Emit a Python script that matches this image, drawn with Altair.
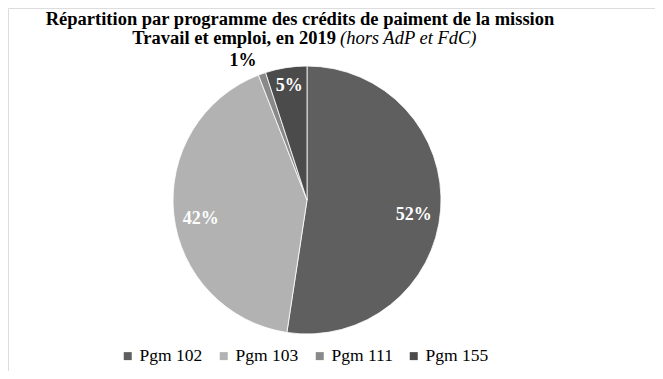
import altair as alt
import pandas as pd

programmes = ["Pgm 102", "Pgm 103", "Pgm 111", "Pgm 155"]
values = [52.4, 41.7, 0.9, 5.0]
labels = ["52%", "42%", "1%", "5%"]
colors = ["#5f5f5f", "#b2b2b2", "#898989", "#4b4b4b"]
order = [1, 2, 3, 4]

title_line1 = "Répartition par programme des crédits de paiment de la mission"
title_line2_bold = "Travail et emploi, en 2019"
title_line2_italic = "(hors AdP et FdC)"

df = pd.DataFrame({"prog": programmes, "val": values, "lab": labels, "ord": order})

FONT = "Liberation Serif"
CX, CY, R = 299, 192, 134

base = alt.Chart(df).encode(
    theta=alt.Theta("val:Q", stack=True),
    order=alt.Order("ord:Q"),
    x=alt.value(CX), y=alt.value(CY),
)

pie = base.mark_arc(outerRadius=R, stroke="white", strokeWidth=0.8).encode(
    color=alt.Color(
        "prog:N",
        scale=alt.Scale(domain=programmes, range=colors),
        legend=alt.Legend(
            title=None, orient="none", legendX=111, legendY=339,
            direction="horizontal", symbolType="square", symbolSize=64,
            symbolStrokeWidth=0, labelFont=FONT, labelFontSize=17.5,
            labelColor="#000000", columnPadding=12, labelOffset=3,
        ),
    ),
)

def lab_only(names):
    cond = " || ".join(f"datum.prog == '{n}'" for n in names)
    return alt.condition(cond, "lab:N", alt.value(""))

big = base.mark_text(radius=107, dy=7, font=FONT, fontSize=18, fontWeight="bold",
                     color="white").encode(text=lab_only(["Pgm 102", "Pgm 103"]))

small = base.mark_text(radius=114, dy=-1, font=FONT, fontSize=18, fontWeight="bold",
                       color="white").encode(text=lab_only(["Pgm 155"]))

outer = base.mark_text(radius=146, dx=-15, dy=-1, font=FONT, fontSize=18, fontWeight="bold",
                       color="black").encode(text=lab_only(["Pgm 111"]))

tdf = pd.DataFrame({"t1": [title_line1], "t2": [title_line2_bold], "t3": [title_line2_italic]})
t1 = alt.Chart(tdf).mark_text(font=FONT, fontSize=18.5, fontWeight="bold", align="center",
                              baseline="alphabetic").encode(
    x=alt.value(292), y=alt.value(16.5), text="t1:N")
t2 = alt.Chart(tdf).mark_text(font=FONT, fontSize=18.5, fontWeight="bold", align="right",
                              baseline="alphabetic").encode(
    x=alt.value(328), y=alt.value(35.5), text="t2:N")
t3 = alt.Chart(tdf).mark_text(font=FONT, fontSize=18.5, fontStyle="italic", align="left",
                              baseline="alphabetic").encode(
    x=alt.value(332), y=alt.value(35.5), text="t3:N")

chart = alt.layer(pie, big, small, outer, t1, t2, t3).properties(
    width=647, height=363, autosize=alt.AutoSizeParams(type="none"),
    padding=0,
).configure_view(stroke=None).configure(background="white")

chart.save("out.html", embed_options={"renderer": "svg", "actions": False})
